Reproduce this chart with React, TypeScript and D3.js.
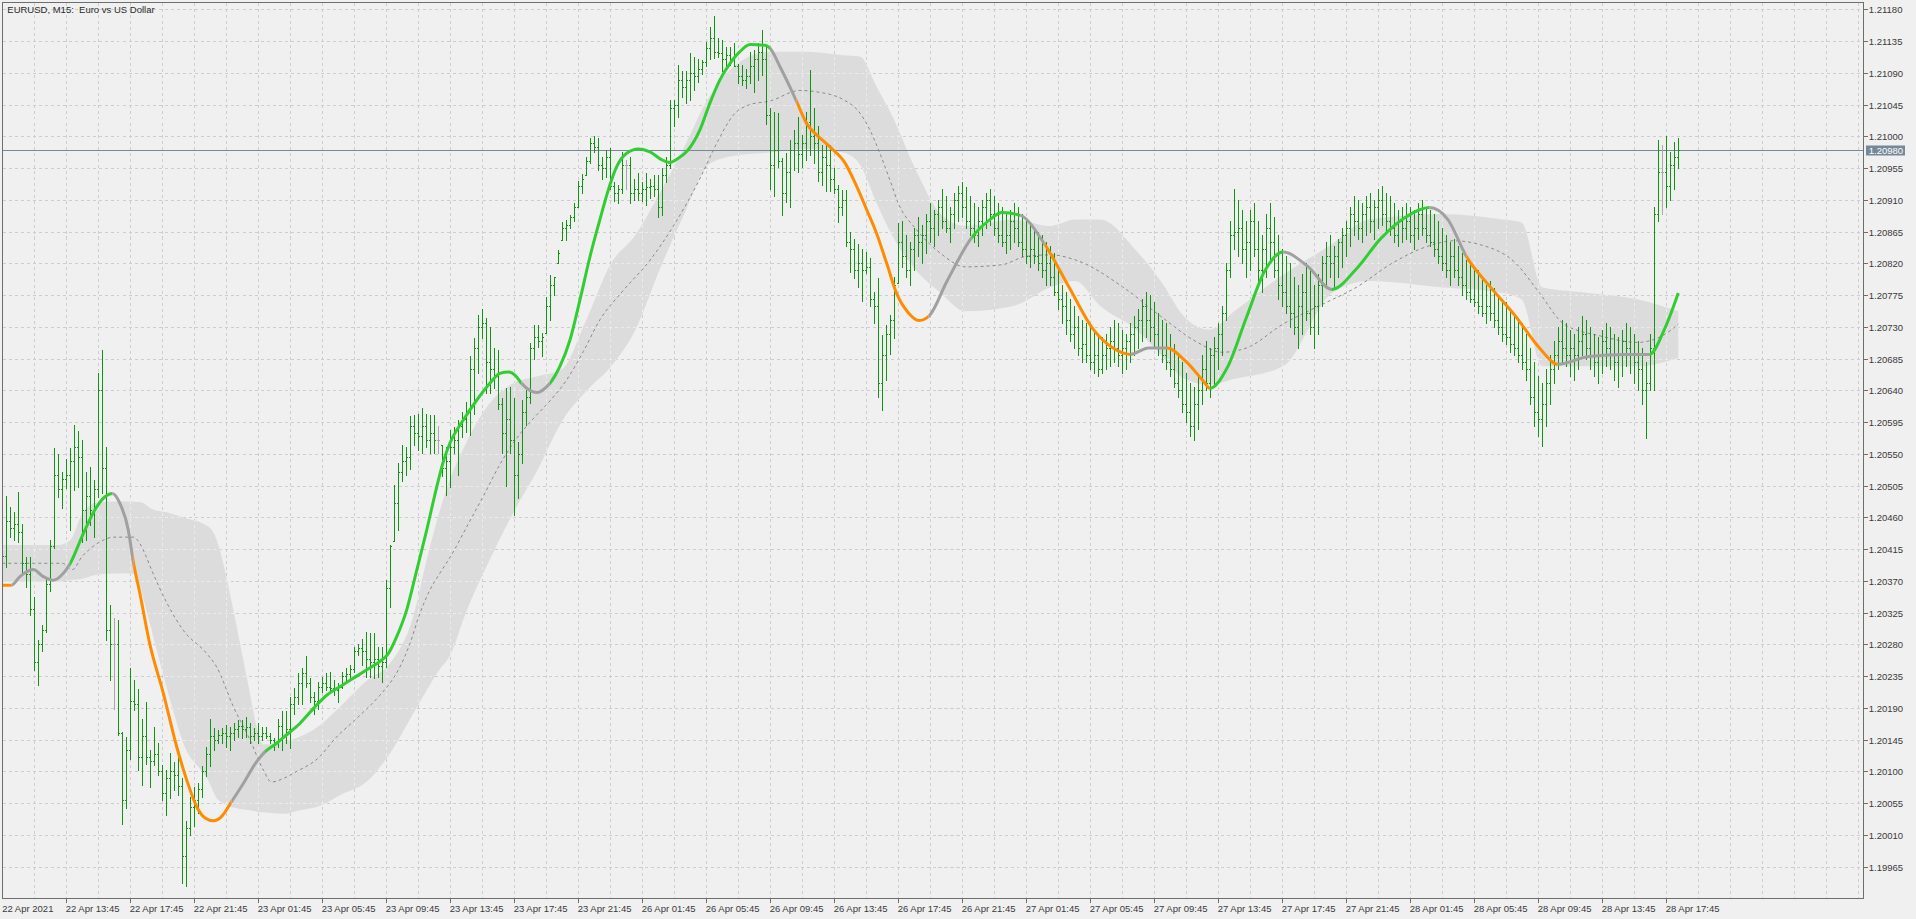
import React from "react";
import * as d3 from "d3";

// EURUSD M15 bar chart with a coloured smoothing line and a grey channel.
// Prices are kept in points (1e-5) above 1.20000.
const BASE = 1.2;

const barHigh = [
  418, 491, 475, 468, 496, 451, 404, 404, 347, 286,
  307, 373, 428, 558, 550, 524, 543, 558, 591, 583,
  570, 524, 532, 513, 664, 697, 560, 336, 317, 314,
  156, 149, 246, 229, 217, 175, 199, 130, 163, 140,
  109, 102, 126, 114, 128, 90, 30, 64, 78, 83,
  107, 135, 175, 161, 159, 161, 166, 163, 168, 173,
  173, 177, 168, 161, 168, 163, 163, 154, 147, 175,
  185, 185, 206, 218, 239, 246, 263, 232, 213, 227,
  234, 239, 241, 229, 225, 241, 246, 251, 277, 281,
  288, 298, 296, 296, 277, 277, 371, 421, 506, 537,
  563, 560, 603, 605, 607, 615, 607, 605, 605, 589,
  563, 560, 584, 588, 598, 610, 624, 688, 714, 747,
  756, 742, 730, 700, 697, 629, 643, 645, 629, 567,
  626, 640, 707, 733, 733, 721, 773, 803, 801, 839,
  879, 881, 888, 905, 936, 947, 971, 997, 1000, 997,
  971, 981, 983, 935, 931, 978, 966, 971, 940, 948,
  935, 948, 940, 945, 945, 955, 971, 1051, 1051, 1101,
  1092, 1092, 1118, 1113, 1110, 1108, 1134, 1155, 1170, 1139,
  1136, 1127, 1127, 1132, 1103, 1101, 1096, 1120, 1122, 1132,
  1151, 1129, 1040, 1035, 1033, 969, 976, 995, 1009, 1028,
  1002, 1035, 1094, 1040, 1014, 988, 990, 988, 955, 931,
  924, 924, 865, 855, 848, 841, 836, 827, 780, 799,
  718, 732, 747, 801, 877, 880, 860, 850, 870, 885,
  875, 890, 905, 895, 910, 925, 915, 900, 920, 930,
  935, 928, 915, 905, 900, 910, 920, 925, 915, 905,
  900, 890, 895, 905, 900, 890, 880, 875, 870, 865,
  860, 850, 845, 835, 815, 790, 780, 770, 760, 745,
  740, 735, 730, 725, 720, 715, 720, 730, 740, 735,
  725, 720, 735, 745, 755, 770, 780, 775, 765, 750,
  740, 735, 720, 705, 690, 680, 665, 650, 645, 660,
  690, 710, 700, 715, 735, 760, 820, 880, 925, 910,
  895, 880, 895, 905, 880, 860, 890, 905, 885, 860,
  840, 830, 820, 800, 790, 805, 820, 810, 790, 805,
  830, 850, 860, 845, 855, 870, 880, 900, 915, 910,
  905, 915, 920, 910, 925, 930, 920, 915, 905, 895,
  900, 905, 900, 895, 905, 910, 900, 895, 890, 880,
  870, 860, 850, 855, 845, 835, 825, 820, 815, 810,
  800, 790, 795, 785, 775, 770, 765, 755, 745, 740,
  735, 720, 700, 680, 660, 650, 670, 690, 710, 730,
  740, 735, 725, 720, 730, 745, 740, 730, 720, 715,
  725, 735, 730, 720, 715, 725, 735, 730, 720, 710,
  700, 680, 720, 900, 995, 988, 1000, 978, 992, 997,
];

const barLow = [
  390, 390, 432, 428, 425, 381, 362, 322, 244, 222,
  270, 298, 355, 416, 489, 473, 501, 442, 499, 503,
  425, 428, 449, 432, 489, 494, 286, 229, 189, 152,
  26, 48, 118, 187, 102, 81, 111, 78, 109, 95,
  60, 38, 62, 74, 67, -58, -63, 10, 22, 41,
  64, 93, 107, 130, 140, 140, 135, 130, 145, 149,
  147, 149, 140, 145, 140, 145, 147, 140, 130, 135,
  130, 140, 133, 182, 196, 196, 220, 199, 182, 189,
  213, 215, 213, 208, 199, 218, 225, 229, 241, 265,
  251, 234, 234, 232, 234, 227, 248, 333, 426, 442,
  511, 520, 529, 563, 555, 551, 560, 551, 551, 551,
  518, 492, 503, 551, 520, 574, 581, 577, 607, 664,
  714, 636, 636, 643, 614, 551, 504, 551, 463, 487,
  537, 591, 622, 685, 702, 688, 721, 740, 775, 820,
  853, 853, 870, 880, 900, 920, 945, 962, 978, 952,
  940, 943, 925, 908, 905, 920, 926, 905, 910, 910,
  908, 903, 912, 915, 886, 889, 935, 955, 1014, 1028,
  1056, 1047, 1051, 1066, 1077, 1089, 1100, 1110, 1111, 1113,
  1092, 1096, 1101, 1099, 1075, 1073, 1068, 1075, 1063, 1080,
  1087, 1018, 926, 915, 957, 889, 907, 900, 952, 950,
  957, 966, 974, 962, 936, 931, 922, 922, 919, 879,
  889, 844, 808, 799, 787, 766, 806, 759, 735, 631,
  612, 655, 692, 714, 792, 815, 800, 790, 810, 830,
  820, 835, 850, 845, 860, 870, 865, 850, 870, 880,
  885, 870, 860, 850, 845, 860, 870, 875, 860, 850,
  845, 835, 840, 850, 845, 830, 820, 815, 820, 810,
  800, 790, 790, 775, 755, 735, 720, 710, 700, 690,
  680, 680, 670, 665, 660, 665, 670, 675, 680, 675,
  665, 670, 680, 690, 700, 710, 715, 710, 700, 690,
  680, 670, 660, 645, 630, 610, 595, 575, 570, 585,
  620, 640, 630, 645, 670, 690, 740, 800, 840, 830,
  820, 800, 810, 830, 790, 780, 800, 820, 800, 770,
  760, 750, 730, 720, 700, 720, 740, 720, 700, 720,
  760, 790, 800, 785, 800, 815, 830, 845, 860, 855,
  850, 860, 865, 855, 870, 875, 865, 860, 850, 845,
  850, 855, 850, 840, 855, 860, 850, 845, 830, 820,
  810, 800, 790, 800, 790, 775, 770, 765, 760, 750,
  745, 735, 740, 730, 720, 710, 705, 695, 690, 680,
  670, 655, 620, 590, 575, 561, 590, 620, 650, 670,
  680, 675, 660, 655, 670, 690, 685, 670, 660, 650,
  665, 675, 670, 655, 645, 660, 675, 665, 650, 640,
  620, 573, 640, 640, 880, 890, 900, 910, 926, 955,
];

const barOpen = [
  400, 405, 455, 445, 450, 440, 395, 380, 330, 255,
  280, 300, 365, 420, 520, 500, 515, 520, 540, 560,
  545, 470, 490, 470, 500, 640, 530, 300, 280, 280,
  155, 60, 130, 200, 195, 120, 150, 120, 115, 125,
  100, 70, 90, 100, 95, 80, -20, 20, 50, 60,
  75, 100, 125, 150, 145, 152, 155, 150, 155, 160,
  165, 160, 163, 150, 155, 150, 155, 150, 145, 140,
  165, 150, 160, 195, 205, 225, 240, 225, 205, 200,
  220, 225, 220, 218, 215, 220, 235, 238, 245, 270,
  275, 270, 260, 255, 260, 250, 255, 360, 426, 480,
  525, 540, 545, 590, 580, 575, 590, 570, 580, 570,
  563, 530, 540, 560, 570, 590, 600, 610, 670, 700,
  730, 735, 680, 670, 660, 620, 580, 600, 570, 520,
  550, 610, 630, 700, 715, 710, 721, 760, 790, 820,
  853, 870, 875, 885, 900, 930, 945, 965, 990, 985,
  960, 955, 970, 930, 920, 925, 960, 960, 920, 925,
  920, 925, 928, 930, 925, 900, 945, 960, 1040, 1045,
  1080, 1070, 1080, 1090, 1085, 1095, 1105, 1125, 1140, 1120,
  1118, 1110, 1115, 1110, 1100, 1085, 1080, 1085, 1100, 1110,
  1120, 1110, 1030, 960, 980, 965, 920, 950, 980, 990,
  975, 990, 1020, 1000, 990, 950, 970, 960, 940, 925,
  900, 910, 850, 840, 810, 820, 810, 815, 770, 760,
  650, 690, 720, 740, 792, 850, 830, 810, 840, 860,
  850, 860, 880, 870, 890, 900, 880, 870, 890, 910,
  920, 900, 880, 870, 860, 880, 900, 910, 890, 870,
  860, 850, 860, 880, 870, 850, 840, 830, 840, 830,
  820, 810, 820, 800, 780, 770, 760, 740, 720, 730,
  700, 705, 690, 680, 690, 670, 690, 700, 710, 700,
  690, 700, 710, 720, 730, 740, 760, 740, 730, 720,
  700, 690, 680, 670, 650, 640, 620, 610, 590, 620,
  640, 670, 650, 690, 700, 720, 750, 810, 860, 865,
  870, 840, 850, 880, 840, 810, 840, 870, 850, 810,
  790, 780, 760, 750, 730, 760, 780, 750, 730, 760,
  790, 820, 830, 820, 830, 850, 860, 870, 890, 880,
  870, 890, 900, 880, 900, 910, 890, 880, 870, 860,
  880, 870, 880, 860, 870, 890, 870, 860, 850, 840,
  830, 820, 810, 830, 810, 800, 790, 780, 770, 765,
  760, 750, 760, 750, 740, 730, 720, 715, 705, 700,
  690, 680, 670, 630, 610, 600, 620, 650, 670, 690,
  710, 700, 690, 700, 690, 710, 720, 700, 690, 680,
  690, 710, 700, 690, 680, 690, 710, 700, 690, 680,
  670, 640, 650, 700, 890, 950, 950, 930, 960, 970,
];

const barClose = [
  405, 455, 445, 450, 440, 395, 380, 330, 255, 280,
  300, 365, 420, 520, 500, 515, 520, 540, 560, 545,
  470, 490, 470, 500, 640, 530, 300, 280, 280, 155,
  60, 130, 200, 195, 120, 150, 120, 115, 125, 100,
  70, 90, 100, 95, 80, -20, 20, 50, 60, 75,
  100, 125, 150, 145, 152, 155, 150, 155, 160, 165,
  160, 163, 150, 155, 150, 155, 150, 145, 140, 165,
  150, 160, 195, 205, 225, 240, 225, 205, 200, 220,
  225, 220, 218, 215, 220, 235, 238, 245, 270, 275,
  270, 260, 255, 260, 250, 255, 360, 420, 480, 525,
  540, 545, 590, 580, 575, 590, 570, 580, 570, 570,
  530, 540, 560, 570, 590, 600, 610, 670, 700, 730,
  735, 680, 670, 660, 620, 580, 600, 570, 520, 550,
  610, 630, 700, 715, 710, 715, 760, 790, 800, 835,
  870, 875, 885, 900, 930, 940, 965, 990, 985, 960,
  955, 970, 930, 920, 925, 960, 960, 920, 925, 920,
  925, 928, 930, 925, 900, 945, 960, 1040, 1045, 1080,
  1070, 1080, 1090, 1085, 1095, 1105, 1125, 1140, 1120, 1118,
  1110, 1115, 1110, 1100, 1085, 1080, 1085, 1100, 1110, 1120,
  1110, 1030, 960, 980, 965, 920, 950, 980, 990, 975,
  990, 1020, 1000, 990, 950, 970, 960, 940, 925, 900,
  910, 850, 840, 810, 820, 810, 815, 770, 760, 650,
  690, 720, 740, 790, 850, 830, 810, 840, 860, 850,
  860, 880, 870, 890, 900, 880, 870, 890, 910, 920,
  900, 880, 870, 860, 880, 900, 910, 890, 870, 860,
  850, 860, 880, 870, 850, 840, 830, 840, 830, 820,
  810, 820, 800, 780, 770, 760, 740, 720, 730, 700,
  705, 690, 680, 690, 670, 690, 700, 710, 700, 690,
  700, 710, 720, 730, 740, 760, 740, 730, 720, 700,
  690, 680, 670, 650, 640, 620, 610, 590, 620, 640,
  670, 650, 690, 700, 720, 750, 810, 860, 865, 870,
  840, 850, 880, 840, 810, 840, 870, 850, 810, 790,
  780, 760, 750, 730, 760, 780, 750, 730, 760, 790,
  820, 830, 820, 830, 850, 860, 870, 890, 880, 870,
  890, 900, 880, 900, 910, 890, 880, 870, 860, 880,
  870, 880, 860, 870, 890, 870, 860, 850, 840, 830,
  820, 810, 830, 810, 800, 790, 780, 770, 765, 760,
  750, 760, 750, 740, 730, 720, 715, 705, 700, 690,
  680, 670, 630, 610, 600, 620, 650, 670, 690, 710,
  700, 690, 700, 690, 710, 720, 700, 690, 680, 690,
  710, 700, 690, 680, 690, 710, 700, 690, 680, 670,
  640, 650, 700, 890, 950, 950, 930, 960, 970, 980,
];

// smoothing line, sampled at bar positions
const lineIdx = [
  0, 2.3, 4.4, 7.75, 10.25, 12.75, 14.8, 16.9, 20.25, 23.6, 26.1, 27.5, 29.4, 31.5, 32.75, 34.4,
  36.9, 40.25, 43.6, 46.1, 48.6, 50.7, 52.75, 54.8, 57.3, 60.25, 63.6, 65.7, 68.6, 71.1, 74.4,
  77.75, 81.1, 84.4, 87.75, 91.1, 94.4, 96.5, 98.6, 101.1, 103.6, 106.1, 108.6, 110.25, 111.9,
  115.25, 118.6, 121.9, 124.4, 126.5, 128.6, 129.8, 131.9, 133.6, 135.7, 136.9, 139.4, 141.9,
  144.4, 146.9, 149.4, 151.5, 153.6, 156.1, 159, 161.9, 164.8, 166.9, 169, 171.5, 174.4, 176.9,
  179.4, 181.9, 184.4, 187, 190.7, 191.9, 194.4, 196.9, 198.6, 201.1, 203.6, 206.9, 210.7, 213.6,
  216.1, 218.6, 221.1, 223.6, 226.5, 229.1, 231.6, 236.2, 242.3, 246.9, 249.9, 254.5, 260.6,
  266.7, 272.8, 277.4, 282, 286.6, 291.2, 295.7, 300.3, 301.9, 306.4, 311, 315.6, 320.2, 326.3,
  332.4, 338.5, 344.6, 350.7, 356.8, 361.4, 366, 372.1, 378.2, 384.3, 388.9, 396.6, 405.7, 411.8,
  415.5, 419,
];
const lineVal = [
  364, 364, 376, 386, 376, 371, 378, 394, 437, 475, 491, 494, 480, 442, 397, 352,
  280, 211, 135, 88, 50, 34, 30, 36, 57, 83, 114, 128, 140, 152, 168,
  189, 208, 220, 232, 244, 256, 267, 291, 329, 385, 442, 503, 539, 565,
  598, 626, 650, 664, 666, 659, 650, 640, 637, 643, 650, 674, 711,
  768, 829, 882, 924, 957, 976, 982, 978, 967, 963, 969, 981, 1009, 1047,
  1080, 1103, 1120, 1130, 1129, 1125, 1099, 1070, 1049, 1018, 1002, 985, 962, 929,
  896, 862, 820, 777, 750, 739, 745, 795, 856, 882, 892, 888, 847,
  786, 726, 701, 691, 700, 700, 682, 653, 643, 674, 743, 809, 836, 816,
  783, 812, 855, 885, 899, 882, 830, 786, 746, 700, 677, 688, 691, 691,
  726, 778,
];
// colour runs of the line: o = falling, g = rising, n = flat
const lineRunStart = [0, 2.3, 16.9, 27.5, 32.75, 57.3, 65.7, 129.8, 136.9, 191.9, 198.6, 231.6,
  242.3, 254.5, 260.6, 282, 291.2, 301.9, 320.2, 332.4, 356.8, 366, 388.9, 411.8];
const lineRunColor = ["o", "n", "g", "n", "o", "n", "g", "n", "g", "n", "o", "n",
  "g", "n", "o", "n", "o", "g", "n", "g", "n", "o", "n", "g"];

// grey channel
const bandIdx = [
  0, 14, 17, 20, 23, 26, 30, 33, 35, 37,
  42, 45.25, 51.5, 53.6, 55.25, 56.9, 58.6, 60.25, 61.9, 63.6,
  65.25, 70.25, 74.4, 78.8, 85, 91, 97.2, 102.75, 106.1, 109.4,
  112, 115.5, 121.6, 127.7, 133.8, 139.9, 146, 152.2, 158.3, 164.4,
  170.5, 176.6, 182.7, 191.9, 201, 210.2, 214.4, 218.6, 222.4, 228.5,
  234.6, 240.7, 253, 262.1, 268.2, 274.4, 283.5, 289.6, 295.7, 301.8,
  308, 320.2, 332.4, 341.6, 359.9, 375.2, 379.8, 385, 396.6, 408.8,
  419,
];
const bandTop = [
  421, 421, 428, 465, 480, 482, 483, 482, 481, 473,
  466, 460, 447, 428, 395, 352, 305, 258, 211, 163,
  138, 142, 149, 163, 195, 228, 255, 320, 400, 470,
  515, 560, 620, 650, 660, 670, 740, 820, 860, 920,
  985, 1055, 1098, 1120, 1120, 1115, 1113, 1070, 1030, 951,
  890, 873, 882, 873, 882, 882, 838, 795, 743, 726,
  752, 804, 847, 882, 890, 882, 878, 786, 778, 769,
  752,
];
const bandBot = [
  369, 369, 371, 373, 378, 380, 381, 380, 350, 307,
  200, 140, 87, 62, 55, 50, 48, 46, 45, 43,
  42, 40, 45, 50, 68, 85, 128, 182, 215, 245,
  265, 319, 397, 466, 527, 596, 639, 674, 726, 812,
  890, 960, 972, 977, 982, 977, 960, 905, 860, 810,
  778, 752, 760, 786, 795, 760, 726, 691, 656, 648,
  656, 674, 778, 795, 786, 778, 769, 674, 674, 674,
  686,
];
const midIdx = [
  0, 15, 17.5, 20, 22.5, 25, 27.75, 32.75, 34.4, 36,
  37, 45.25, 51.1, 53.6, 57.75, 61.9, 65.25, 67.3, 70.25, 73.6,
  78.8, 83.6, 88, 94.4, 96.9, 99.4, 101.9, 104.4, 106.9, 109.4,
  112, 116.9, 120.25, 124.4, 128.6, 132.75, 136.9, 141.1, 145.25, 149.4,
  155, 162, 168, 174.4, 178.6, 182.75, 186.9, 191.9, 199.4, 203.6,
  210.25, 214.4, 216.9, 219.4, 221.9, 224, 228.5, 234.6, 240.7, 249.9,
  256, 262.1, 268.2, 280.5, 289.6, 298.8, 304.9, 311, 320.2, 329.3,
  338.5, 347.7, 356.8, 362.9, 369.1, 378.2, 384.3, 390.4, 399.6, 408.8,
  414.9, 419,
];
const midVal = [
  395, 395, 386, 405, 418, 427, 432, 432, 423, 404,
  390, 300, 267, 248, 192, 145, 102, 85, 90, 100,
  118, 149, 172, 208, 225, 248, 281, 324, 357, 381,
  404, 455, 490, 535, 572, 600, 625, 655, 695, 740,
  780, 825, 875, 940, 990, 1030, 1045, 1050, 1065, 1063,
  1052, 1033, 1009, 976, 938, 905, 868, 834, 815, 818,
  830, 832, 825, 785, 745, 708, 694, 700, 734, 760,
  786, 821, 845, 852, 847, 821, 778, 734, 717, 708,
  717, 734,
];

const priceTicks = [
  1.2118, 1.21135, 1.2109, 1.21045, 1.21, 1.20955, 1.2091, 1.20865, 1.2082, 1.20775,
  1.2073, 1.20685, 1.2064, 1.20595, 1.2055, 1.20505, 1.2046, 1.20415, 1.2037, 1.20325,
  1.2028, 1.20235, 1.2019, 1.20145, 1.201, 1.20055, 1.2001, 1.19965,
];
const timeTickBars = [16, 32, 48, 64, 80, 96, 112, 128, 144, 160, 176, 192, 208, 224, 240, 256,
  272, 288, 304, 320, 336, 352, 368, 384, 400, 416];
const timeTickLabels = [
  "22 Apr 13:45", "22 Apr 17:45", "22 Apr 21:45", "23 Apr 01:45", "23 Apr 05:45", "23 Apr 09:45",
  "23 Apr 13:45", "23 Apr 17:45", "23 Apr 21:45", "26 Apr 01:45", "26 Apr 05:45", "26 Apr 09:45",
  "26 Apr 13:45", "26 Apr 17:45", "26 Apr 21:45", "27 Apr 01:45", "27 Apr 05:45", "27 Apr 09:45",
  "27 Apr 13:45", "27 Apr 17:45", "27 Apr 21:45", "28 Apr 01:45", "28 Apr 05:45", "28 Apr 09:45",
  "28 Apr 13:45", "28 Apr 17:45",
];
const firstDateLabel = "22 Apr 2021";
const lastPrice = 1.2098;
const title = "EURUSD, M15:  Euro vs US Dollar";

const W = 1916;
const H = 919;
const LEFT = 2.5;
const TOP = 2.5;
const RIGHT = 1863.5;
const BOTTOM = 898.5;

const BG = "#f0f0f0";
const GRID = "#cdcdcd";
const BAND = "#dcdcdc";
const BAR = "#129412";
const DOJI = "#a9a9a9";
const LINE_COL: Record<string, string> = { g: "#32cd32", o: "#ff8c00", n: "#a0a0a0" };
const FONT = "'Liberation Sans', Arial, sans-serif";

export default function App() {
  const x = d3.scaleLinear().domain([0, 465.25]).range([2.3, 1863.3]);
  const y = d3.scaleLinear().domain([1.19965, 1.2118]).range([866.7, 9.3]);
  const yv = (v: number) => y(BASE + v / 1e5);
  const px = (v: number) => Math.round(v) + 0.5;

  // bars
  let upPath = "";
  let dojiPath = "";
  barHigh.forEach((h, i) => {
    const xc = px(x(i));
    const yh = Math.round(yv(h));
    const yl = Math.round(yv(barLow[i])) + 1;
    const yo = px(yv(barOpen[i]));
    const yc = px(yv(barClose[i]));
    const d = `M${xc},${yh}V${yl}M${xc - 1.5},${yo}H${xc - 0.5}M${xc + 0.5},${yc}H${xc + 1.5}`;
    if (barOpen[i] === barClose[i]) dojiPath += d;
    else upPath += d;
  });

  // channel and mid line
  const bandData = bandIdx.map((b, k) => [b, bandTop[k], bandBot[k]] as [number, number, number]);
  const bandPath =
    d3
      .area<[number, number, number]>()
      .x((d) => x(d[0]))
      .y0((d) => yv(d[2]))
      .y1((d) => yv(d[1]))
      .curve(d3.curveMonotoneX)(bandData) || "";
  const midPath =
    d3
      .line<[number, number]>()
      .x((d) => x(d[0]))
      .y((d) => yv(d[1]))
      .curve(d3.curveMonotoneX)(midIdx.map((b, k) => [b, midVal[k]] as [number, number])) || "";

  const linePath =
    d3
      .line<[number, number]>()
      .x((d) => x(d[0]))
      .y((d) => yv(d[1]))
      .curve(d3.curveMonotoneX)(lineIdx.map((b, k) => [b, lineVal[k]] as [number, number])) || "";

  const runs = lineRunStart.map((s, k) => ({
    x0: k === 0 ? 0 : x(s),
    x1: k === lineRunStart.length - 1 ? W : x(lineRunStart[k + 1]),
    col: LINE_COL[lineRunColor[k]],
  }));

  // grid
  const vGrid = d3.range(1, 59).map((k) => px(x(k * 8)));
  const hGrid = priceTicks.map((p) => px(y(p)));
  const gridPath =
    vGrid.map((gx) => `M${gx},${TOP}V${BOTTOM}`).join("") +
    hGrid.map((gy) => `M${LEFT},${gy}H${RIGHT}`).join("");

  const yLast = px(y(lastPrice));

  return (
    <svg
      width={W}
      height={H}
      style={{ position: "absolute", left: 0, top: 0, background: BG }}
      fontFamily={FONT}
    >
      <defs>
        <clipPath id="plotClip">
          <rect x={LEFT} y={TOP} width={RIGHT - LEFT} height={BOTTOM - TOP} />
        </clipPath>
        <clipPath id="bandClip">
          <path d={bandPath} />
        </clipPath>
        {runs.map((r, k) => (
          <clipPath id={`run${k}`} key={k}>
            <rect x={r.x0} y={0} width={Math.max(0, r.x1 - r.x0)} height={H} />
          </clipPath>
        ))}
      </defs>
      <rect x={0} y={0} width={W} height={H} fill={BG} />

      <g clipPath="url(#plotClip)">
        <path d={gridPath} stroke={GRID} strokeDasharray="3,3" fill="none" shapeRendering="crispEdges" />
        <path d={bandPath} fill={BAND} />
        <g clipPath="url(#bandClip)">
          <path d={gridPath} stroke="#ececec" strokeDasharray="3,3" fill="none" shapeRendering="crispEdges" />
        </g>
        <path d={midPath} stroke="#8a8a8a" strokeWidth={1} strokeDasharray="3,3" fill="none" />
        <line x1={LEFT} x2={RIGHT} y1={yLast} y2={yLast} stroke="#778899" strokeWidth={1} shapeRendering="crispEdges" />
        <path d={upPath} stroke={BAR} strokeWidth={1} fill="none" shapeRendering="crispEdges" />
        <path d={dojiPath} stroke={DOJI} strokeWidth={1} fill="none" shapeRendering="crispEdges" />
        {runs.map((r, k) => (
          <path
            key={k}
            d={linePath}
            stroke={r.col}
            strokeWidth={3}
            fill="none"
            strokeLinejoin="round"
            clipPath={`url(#run${k})`}
          />
        ))}
      </g>

      <rect
        x={LEFT}
        y={TOP}
        width={RIGHT - LEFT}
        height={BOTTOM - TOP}
        fill="none"
        stroke="#6e6e6e"
        strokeWidth={1}
        shapeRendering="crispEdges"
      />

      <text x={7.3} y={12.8} fontSize={9.5} fill="#2a2a2a" style={{ whiteSpace: "pre" }}>
        {title}
      </text>

      {/* price axis */}
      {priceTicks.map((p, k) => (
        <g key={k}>
          <line x1={RIGHT} x2={RIGHT + 4} y1={hGrid[k]} y2={hGrid[k]} stroke="#6e6e6e" shapeRendering="crispEdges" />
          <text x={1868.8} y={hGrid[k]} dy="0.35em" fontSize={9.5} fill="#3a3a3a">
            {p.toFixed(5)}
          </text>
        </g>
      ))}
      <rect x={1866} y={yLast - 5} width={39} height={10} fill="#778899" />
      <text x={1868.8} y={yLast} dy="0.35em" fontSize={9.5} fill="#ffffff">
        {lastPrice.toFixed(5)}
      </text>

      {/* time axis */}
      <text x={2.2} y={911.5} fontSize={9.5} fill="#3a3a3a">
        {firstDateLabel}
      </text>
      {timeTickBars.map((b, k) => {
        const tx = px(x(b));
        return (
          <g key={k}>
            <line x1={tx} x2={tx} y1={BOTTOM} y2={BOTTOM + 4.5} stroke="#6e6e6e" shapeRendering="crispEdges" />
            <text x={tx - 0.8} y={911.5} fontSize={9.5} fill="#3a3a3a">
              {timeTickLabels[k]}
            </text>
          </g>
        );
      })}
    </svg>
  );
}
